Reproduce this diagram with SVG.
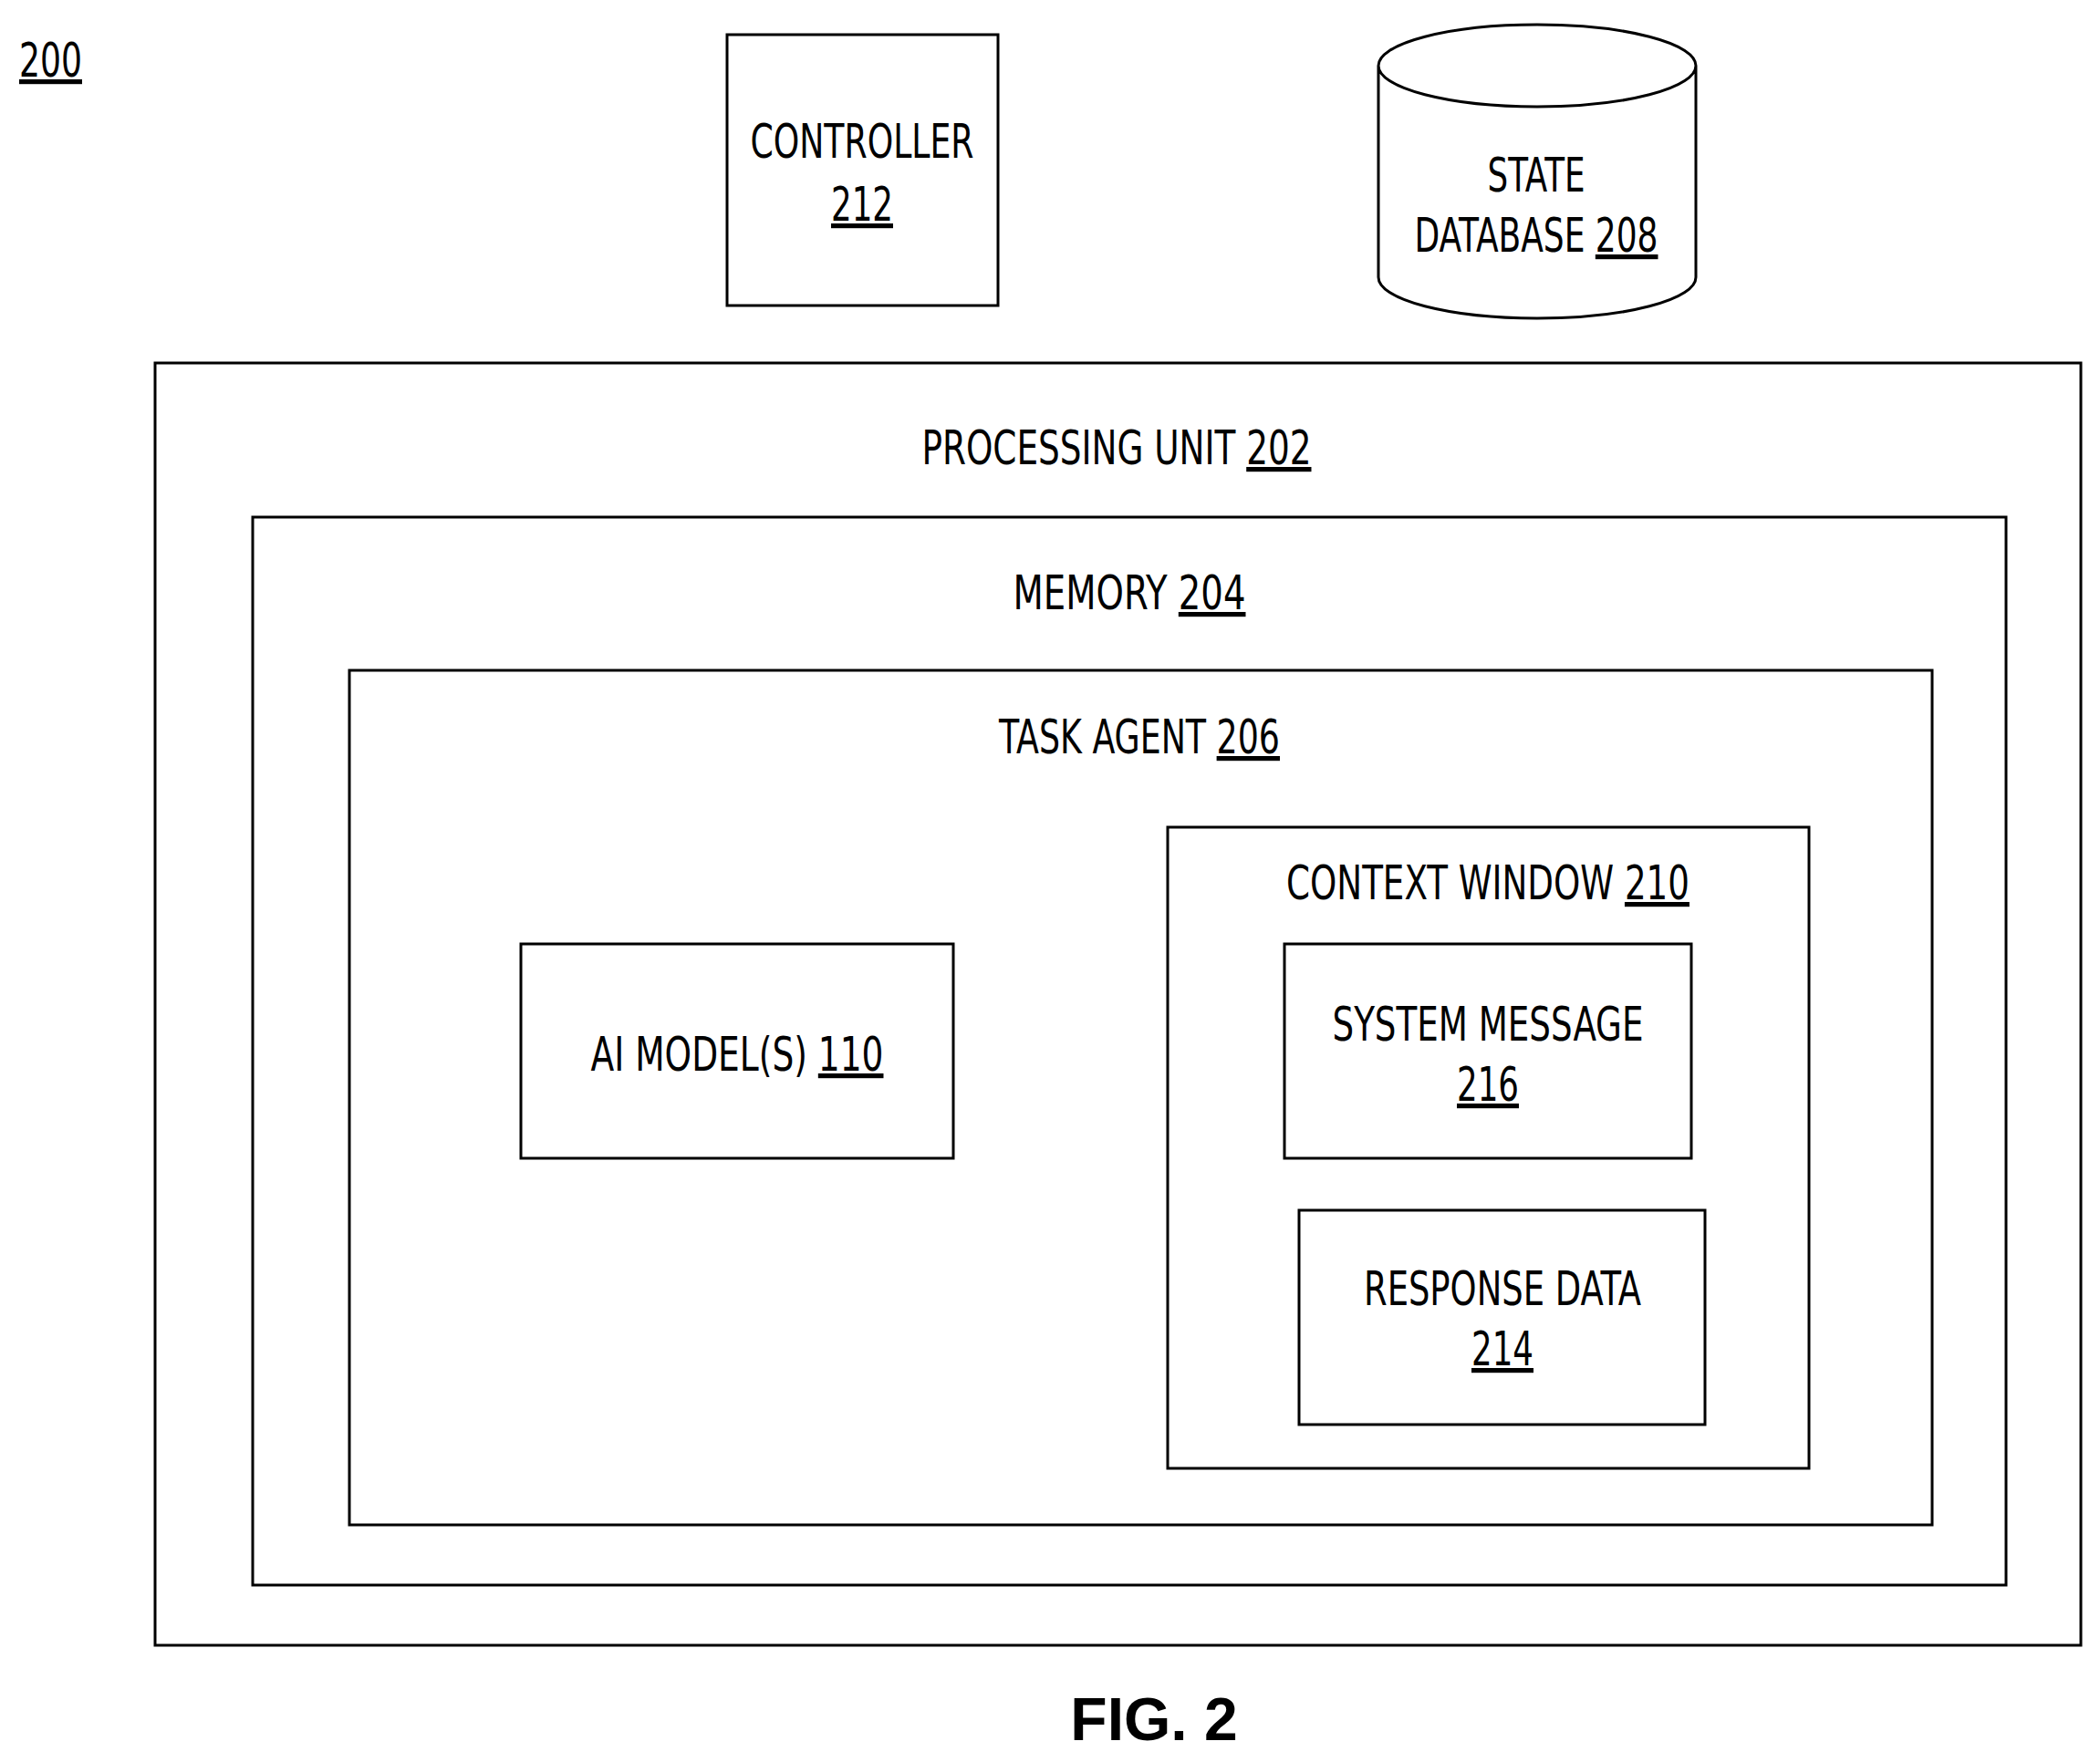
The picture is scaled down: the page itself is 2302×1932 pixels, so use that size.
<svg xmlns="http://www.w3.org/2000/svg" width="2302" height="1932" viewBox="0 0 2302 1932">
<style>
.b{fill:none;stroke:#000;stroke-width:3}
text{font-family:"DejaVu Sans Condensed","DejaVu Sans",sans-serif;font-size:52px;fill:#000;text-anchor:middle}
.u{text-decoration:underline}
.fig{font-family:"Liberation Sans",sans-serif;font-weight:bold;font-size:66px}
</style>
<rect width="2302" height="1932" fill="#fff"/>
<text x="21" y="84" class="u" style="text-anchor:start" textLength="69" lengthAdjust="spacingAndGlyphs">200</text>
<g id="controller"><rect class="b" x="797" y="38" width="297" height="297"/>
<text x="945" y="173" textLength="245" lengthAdjust="spacingAndGlyphs">CONTROLLER</text>
<text x="945" y="242" class="u" textLength="68" lengthAdjust="spacingAndGlyphs">212</text></g>
<g id="statedb"><path class="b" d="M1511,72 A174,45 0 0 1 1859,72 V304 A174,45 0 0 1 1511,304 Z M1511,72 A174,45 0 0 0 1859,72"/>
<text x="1684" y="210" textLength="107" lengthAdjust="spacingAndGlyphs">STATE</text>
<text x="1684" y="276" textLength="267" lengthAdjust="spacingAndGlyphs">DATABASE <tspan class="u">208</tspan></text></g>
<g id="processing"><rect class="b" x="170" y="398" width="2111" height="1406"/>
<text x="1224" y="509" textLength="427" lengthAdjust="spacingAndGlyphs">PROCESSING UNIT <tspan class="u">202</tspan></text></g>
<g id="memory"><rect class="b" x="277" y="567" width="1922" height="1171"/>
<text x="1238" y="668" textLength="255" lengthAdjust="spacingAndGlyphs">MEMORY <tspan class="u">204</tspan></text></g>
<g id="taskagent"><rect class="b" x="383" y="735" width="1735" height="937"/>
<text x="1249" y="826" textLength="308" lengthAdjust="spacingAndGlyphs">TASK AGENT <tspan class="u">206</tspan></text></g>
<g id="contextwindow"><rect class="b" x="1280" y="907" width="703" height="703"/>
<text x="1631" y="986" textLength="442" lengthAdjust="spacingAndGlyphs">CONTEXT WINDOW <tspan class="u">210</tspan></text></g>
<g id="aimodel"><rect class="b" x="571" y="1035" width="474" height="235"/>
<text x="808" y="1174" textLength="321" lengthAdjust="spacingAndGlyphs">AI MODEL(S) <tspan class="u">110</tspan></text></g>
<g id="systemmessage"><rect class="b" x="1408" y="1035" width="446" height="235"/>
<text x="1631" y="1141" textLength="341" lengthAdjust="spacingAndGlyphs">SYSTEM MESSAGE</text>
<text x="1631" y="1207" class="u" textLength="68" lengthAdjust="spacingAndGlyphs">216</text></g>
<g id="responsedata"><rect class="b" x="1424" y="1327" width="445" height="235"/>
<text x="1647" y="1431" textLength="304" lengthAdjust="spacingAndGlyphs">RESPONSE DATA</text>
<text x="1647" y="1497" class="u" textLength="68" lengthAdjust="spacingAndGlyphs">214</text></g>
<g id="connectors"></g>
<text x="1265" y="1908" class="fig">FIG. 2</text>
</svg>
